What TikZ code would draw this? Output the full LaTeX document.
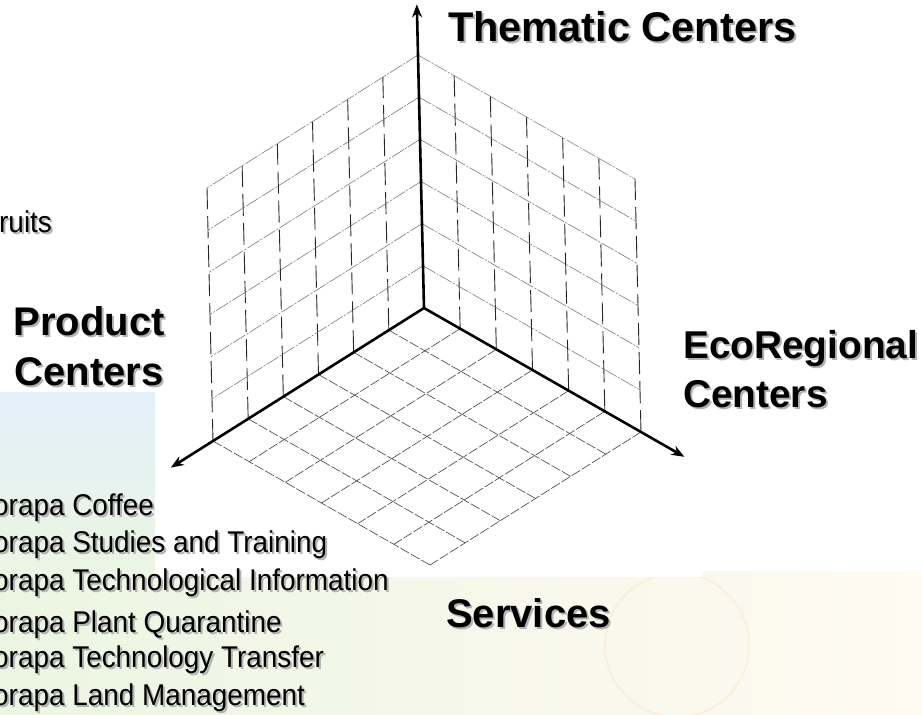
\documentclass[tikz,border=0pt]{standalone}
\usepackage{fontspec}
\setmainfont{Liberation Sans}
\newfontfamily\listfont[FakeStretch=0.93]{Liberation Sans}
\usetikzlibrary{calc,arrows.meta}
\definecolor{bgblue}{RGB}{226,240,250}
\definecolor{bggreen}{RGB}{236,245,226}
\definecolor{bgyellow}{RGB}{255,247,216}
\definecolor{bgpale}{RGB}{255,250,242}
\definecolor{logoline}{RGB}{250,232,200}
\newcommand{\shd}[1]{\rlap{\kern2pt\raisebox{-2pt}{\color{black!30}#1}}#1}
\begin{document}
\begin{tikzpicture}[x=1pt,y=-1pt,
  title/.style={font=\fontsize{40}{48}\selectfont\bfseries, inner sep=0pt},
  listitem/.style={font=\listfont\fontsize{30}{36}\selectfont, inner sep=0pt, anchor=base west},
  wallv/.style={line width=0.9pt, black!85, dash pattern=on 22pt off 7pt},
  walls/.style={line width=0.55pt, black!55, dash pattern=on 14pt off 1.5pt on 2pt off 1.5pt},
  floorline/.style={line width=0.6pt, black!75, dash pattern=on 10pt off 2pt},
  axisline/.style={line width=2.6pt, line join=round, -{Stealth[length=13pt,width=10pt]}}]
\useasboundingbox (0,0) rectangle (922,715);
\clip (0,0) rectangle (922,715);
% slide background
\fill[white] (0,0) rectangle (922,715);
\shade[top color=bgblue, middle color=white!40!bgblue, bottom color=bggreen] (0,392) rectangle (155,577);
\shade[left color=bggreen, middle color=bgyellow, right color=bgpale] (0,571) rectangle (922,715);
\draw[logoline, line width=2pt, opacity=0.5] (677,645) circle[radius=72pt];
\fill[white] (155,0) rectangle (702,577);
% geometry
\coordinate (O) at (424,308);
\coordinate (L) at (-211,133);
\coordinate (R) at (217,124);
\coordinate (V) at (-6,-253);
% left wall
\foreach \i in {1,...,6}
  \draw[wallv] ($(O)+\i/6*(L)$) -- ($(O)+\i/6*(L)+(V)$);
\foreach \j in {1,...,6}
  \draw[walls] ($(O)+\j/6*(V)$) -- ($(O)+\j/6*(V)+(L)$);
% right wall
\foreach \i in {1,...,6}
  \draw[wallv] ($(O)+\i/6*(R)$) -- ($(O)+\i/6*(R)+(V)$);
\foreach \j in {1,...,6}
  \draw[walls] ($(O)+\j/6*(V)$) -- ($(O)+\j/6*(V)+(R)$);
% floor
\foreach \i in {1,...,6}
  \draw[floorline] ($(O)+\i/6*(L)$) -- ($(O)+\i/6*(L)+(R)$);
\foreach \j in {1,...,6}
  \draw[floorline] ($(O)+\j/6*(R)$) -- ($(O)+\j/6*(R)+(L)$);
% axes
\coordinate (Ztip) at ($(O)+1.2*(V)$);
\coordinate (Ltip) at ($(O)+1.2*(L)$);
\coordinate (Rtip) at ($(O)+1.2*(R)$);
\draw[axisline] (O) -- (Ztip);
\draw[axisline] (O) -- (Ltip);
\draw[axisline] (O) -- (Rtip);
% titles
\node[title, font=\fontsize{41.5}{50}\selectfont\bfseries, anchor=base west] (thematic) at (448,41) {\shd{Thematic Centers}};
\node[title, anchor=base] (prodA) at (89,335) {\shd{Product}};
\node[title, anchor=base] (prodB) at (89,385) {\shd{Centers}};
\node[title, font=\fontsize{38.8}{47}\selectfont\bfseries, anchor=base west] (ecoA) at (683,358) {\shd{EcoRegional}};
\node[title, font=\fontsize{38.8}{47}\selectfont\bfseries, anchor=base west] (ecoB) at (683,407) {\shd{Centers}};
\node[title, anchor=base west] (services) at (446,627) {\shd{Services}};
% list texts (cut at the left edge)
\node[listitem] (fruits) at (-1,232) {\shd{ruits}};
\node[listitem] (l1) at (-7,515) {\shd{orapa Coffee}};
\node[listitem] (l2) at (-7,552) {\shd{orapa Studies and Training}};
\node[listitem] (l3) at (-7,590) {\shd{orapa Technological Information}};
\node[listitem] (l4) at (-7,632) {\shd{orapa Plant Quarantine}};
\node[listitem] (l5) at (-7,667) {\shd{orapa Technology Transfer}};
\node[listitem] (l6) at (-7,705) {\shd{orapa Land Management}};
\end{tikzpicture}
\end{document}
